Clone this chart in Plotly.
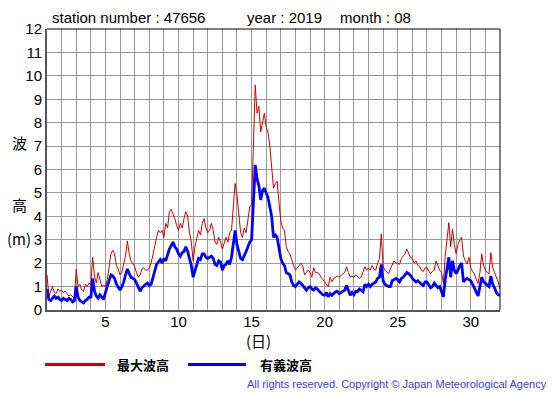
import numpy as np
import plotly.graph_objects as go

# 3-hourly readings, Aug 1 00h .. Sep 1 00h (x in "day of month")
sig_wave = [
    0.9, 0.45, 0.4, 0.5, 0.6, 0.5, 0.55, 0.45,
    0.4, 0.5, 0.45, 0.4, 0.5, 0.45, 0.35, 0.4,
    1.0, 0.55, 0.4, 0.35, 0.3, 0.4, 0.45, 0.55,
    0.55, 1.35, 0.8, 0.6, 0.5, 0.65, 0.55, 0.45,
    0.75, 1.0, 1.3, 1.5, 1.45, 1.35, 1.1, 1.0,
    0.85, 1.0, 1.2, 1.5, 1.75, 1.55, 1.4, 1.35,
    1.3, 1.15, 0.95, 0.8, 0.95, 1.05, 1.1, 1.15,
    1.05, 1.1, 1.35, 1.7, 1.95, 2.05, 2.15, 2.0,
    2.2, 2.1, 2.4, 2.6, 2.75, 2.9, 2.7, 2.6,
    2.4, 2.3, 2.45, 2.5, 2.7, 2.5, 2.2, 1.9,
    1.4, 1.7, 2.0, 2.2, 2.15, 2.4, 2.4, 2.25,
    2.2, 2.25, 2.3, 2.2, 1.95, 1.9, 2.1, 2.05,
    1.7, 1.9, 1.95, 2.1, 1.95, 2.25, 2.75, 3.4,
    2.8, 2.45, 2.2, 2.15, 2.3, 2.5, 2.7, 2.9,
    3.0, 5.0, 6.2, 5.6, 5.3, 4.7, 5.1, 5.2,
    5.0, 4.8, 4.4, 4.0, 3.1, 3.2, 3.1, 2.7,
    2.2, 2.0, 1.9, 1.6, 1.55, 1.5, 1.2, 1.05,
    1.0, 1.1, 1.2, 1.15, 1.05, 1.0, 0.85, 0.95,
    1.0, 0.9, 0.85, 0.95, 0.9, 0.8, 0.7, 0.65,
    0.63, 0.75, 0.56, 0.7, 0.63, 0.7, 0.78, 0.8,
    0.7, 0.75, 0.8, 0.85, 1.05, 0.8, 0.63, 0.75,
    0.65, 0.8, 0.78, 0.9, 0.85, 0.78, 1.1, 1.0,
    1.1, 1.0, 1.1, 1.15, 1.2, 1.35, 1.4, 1.95,
    1.25, 1.1, 1.05, 1.0, 1.0, 1.25, 1.3, 1.35,
    1.3, 1.2, 1.35, 1.4, 1.5, 1.6, 1.55, 1.48,
    1.35, 1.25, 1.2, 1.25, 1.15, 1.1, 1.05, 1.2,
    1.2, 1.1, 0.95, 1.0, 1.15, 1.05, 0.95, 1.0,
    0.75, 0.56, 1.3, 1.8, 2.25, 1.4, 2.1, 1.7,
    1.55, 1.7, 1.9, 2.0, 1.2, 1.3, 1.35, 1.3,
    1.25, 1.1, 0.95, 0.8, 0.6, 1.0, 1.4, 1.2,
    1.15, 1.05, 1.0, 1.45, 1.1, 0.95, 0.75, 0.65,
    0.63,
]

max_wave = [
    1.5, 0.6, 0.8, 1.0, 0.75, 0.7, 0.9, 0.8,
    0.85, 0.75, 0.8, 0.7, 0.6, 0.65, 0.55, 0.5,
    1.75, 1.0, 1.1, 0.85, 0.8, 1.1, 1.0, 1.15,
    1.1, 2.25, 1.45, 1.15, 1.6, 1.25, 1.0, 1.05,
    1.0, 1.3, 1.9, 2.4, 2.55, 2.4, 1.9, 1.75,
    1.5, 1.6, 2.0, 2.3, 2.95, 2.4, 2.1, 2.0,
    1.85, 1.6, 1.4, 1.5, 1.75, 1.8, 1.7, 1.7,
    1.8, 2.0, 2.4, 2.8, 3.1, 3.4, 3.3, 3.4,
    3.1, 3.7, 3.5, 4.2, 4.3, 4.1, 3.9, 3.6,
    3.4, 3.7, 3.5, 3.9, 4.2, 4.0, 3.3, 2.9,
    2.1, 2.7, 3.0, 3.4, 3.2, 3.7, 3.9, 3.5,
    3.3, 3.4, 3.7, 3.4, 2.9, 2.8, 3.1, 2.9,
    2.6, 2.9, 3.1, 2.9, 3.3, 3.4, 4.5, 5.4,
    4.9, 3.9, 3.3, 3.1, 3.5, 3.3, 3.9, 4.4,
    4.5, 7.5, 9.6, 8.4, 8.7, 7.6, 8.1, 8.4,
    7.8, 7.6, 7.0, 6.2, 5.2, 5.4, 5.5, 4.6,
    3.8, 3.5, 3.4, 2.7, 2.5, 2.4, 2.1, 1.9,
    1.7, 1.8, 1.85, 2.0, 1.9, 1.5, 1.6, 1.7,
    1.6, 1.4, 1.8, 1.6, 1.6, 1.55, 1.4, 1.3,
    1.25, 1.1, 1.0, 1.4, 1.2, 1.35, 1.4, 1.45,
    1.4, 1.5, 1.55, 1.6, 1.85, 1.6, 1.4, 1.45,
    1.4, 1.5, 1.4, 1.35, 1.4, 1.6, 1.85, 1.7,
    1.8, 1.7, 1.9, 1.75, 1.7, 2.0, 2.2, 3.25,
    1.85, 1.7, 1.6, 1.55, 1.75, 1.95, 2.1, 2.0,
    2.0, 1.95, 2.2, 2.3, 2.4, 2.6, 2.4, 2.25,
    2.2, 2.0, 2.1, 1.9, 1.85, 1.7, 1.65, 1.8,
    1.8, 1.7, 1.55, 1.65, 1.7, 2.1, 1.9, 1.7,
    1.6, 1.13, 2.3, 3.0, 3.73, 2.7, 3.45, 2.8,
    2.4, 2.8, 3.0, 3.1, 2.3, 2.1, 1.97, 2.25,
    1.8, 1.65, 1.55, 1.3, 1.13, 1.6, 2.4, 1.9,
    1.7, 1.6, 1.55, 2.45, 1.8, 1.6, 1.4, 1.2,
    0.9,
]

day_ticks = [5, 10, 15, 20, 25, 30]
height_ticks = list(range(0, 13))
title_parts = ["station number : 47656", "year : 2019", "month : 08"]
legend_names = ["最大波高", "有義波高"]

days = 1 + np.arange(len(sig_wave)) / 8.0

RED = "#cc0000"
BLUE = "#0000ff"
FONT = "Liberation Sans, Arial, sans-serif"
JFONT = "Noto Sans CJK JP, sans-serif"

# the page body adds an 8px margin, so the figure is drawn 8px smaller
OFF = 8
W, H = 555 - OFF, 395 - OFF
# plot area in page pixels: x 47..500, y 27..310
L, T = 47 - OFF, 27 - OFF
R = W - (500 - OFF)
B = H - (310 - OFF)
pw, ph = W - L - R, H - T - B


def px(x):
    """page x pixel -> paper coord"""
    return (x - OFF - L) / pw


def py(y):
    """page y pixel -> paper coord"""
    return (H - B - (y - OFF)) / ph


fig = go.Figure()
fig.add_trace(go.Scatter(x=days, y=max_wave, mode="lines",
                         line=dict(color=RED, width=1), name=legend_names[0],
                         showlegend=False))
fig.add_trace(go.Scatter(x=days, y=sig_wave, mode="lines",
                         line=dict(color=BLUE, width=2.8), name=legend_names[1],
                         showlegend=False))

fig.update_layout(
    width=W, height=H,
    margin=dict(l=L, r=R, t=T, b=B, pad=0),
    plot_bgcolor="white", paper_bgcolor="white",
    font=dict(family=FONT, color="black"),
    xaxis=dict(range=[1, 32], tickvals=day_ticks, ticktext=[str(v) for v in day_ticks],
               showgrid=False, zeroline=False,
               minor=dict(dtick=1, tick0=0, showgrid=True, gridcolor="#9a9a9a", gridwidth=1),
               showline=True, linecolor="#555555", linewidth=2,
               ticks="", ticklabelstandoff=-3, tickfont=dict(size=15, family=FONT)),
    yaxis=dict(range=[0, 12], tickvals=height_ticks, showgrid=True,
               gridcolor="#9a9a9a", gridwidth=1, zeroline=False,
               showline=True, linecolor="#555555", linewidth=2,
               ticks="", tickfont=dict(size=15, family=FONT)),
)

# top / right frame
fig.add_shape(type="line", xref="paper", yref="paper", x0=0, x1=1, y0=1, y1=1,
              line=dict(color="black", width=1))
fig.add_shape(type="line", xref="paper", yref="paper", x0=1, x1=1, y0=0, y1=1,
              line=dict(color="black", width=1))

ann = []
for txt, xpos in zip(title_parts, [50, 245, 338]):
    ann.append(dict(text=txt, x=px(xpos), y=py(15), xref="paper", yref="paper",
                    xanchor="left", yanchor="middle", showarrow=False,
                    font=dict(size=15, family=FONT)))
for txt, ypos in [("波", 141), ("高", 204), ("(m)", 238)]:
    ann.append(dict(text=txt, x=px(19), y=py(ypos), xref="paper", yref="paper",
                    xanchor="center", yanchor="middle", showarrow=False,
                    font=dict(size=15, family=JFONT)))
ann.append(dict(text="(日)", x=px(258), y=py(341), xref="paper", yref="paper",
                xanchor="center", yanchor="middle", showarrow=False,
                font=dict(size=15, family=JFONT)))
fig.add_shape(type="line", xref="paper", yref="paper", x0=px(45), x1=px(105),
              y0=py(365), y1=py(365), line=dict(color=RED, width=3))
fig.add_shape(type="line", xref="paper", yref="paper", x0=px(188), x1=px(246),
              y0=py(365), y1=py(365), line=dict(color=BLUE, width=3))
for txt, xpos in [(legend_names[0], 115), (legend_names[1], 258)]:
    ann.append(dict(text="<b>" + txt + "</b>", x=px(xpos), y=py(365), xref="paper", yref="paper",
                    xanchor="left", yanchor="middle", showarrow=False,
                    font=dict(size=13, family=JFONT)))
ann.append(dict(text="All rights reserved. Copyright © Japan Meteorological Agency",
                x=px(549), y=py(385), xref="paper", yref="paper",
                xanchor="right", yanchor="middle", showarrow=False,
                font=dict(size=11, family=FONT, color="#3c3cdc")))
fig.update_layout(annotations=ann)

fig.write_html("out.html")
